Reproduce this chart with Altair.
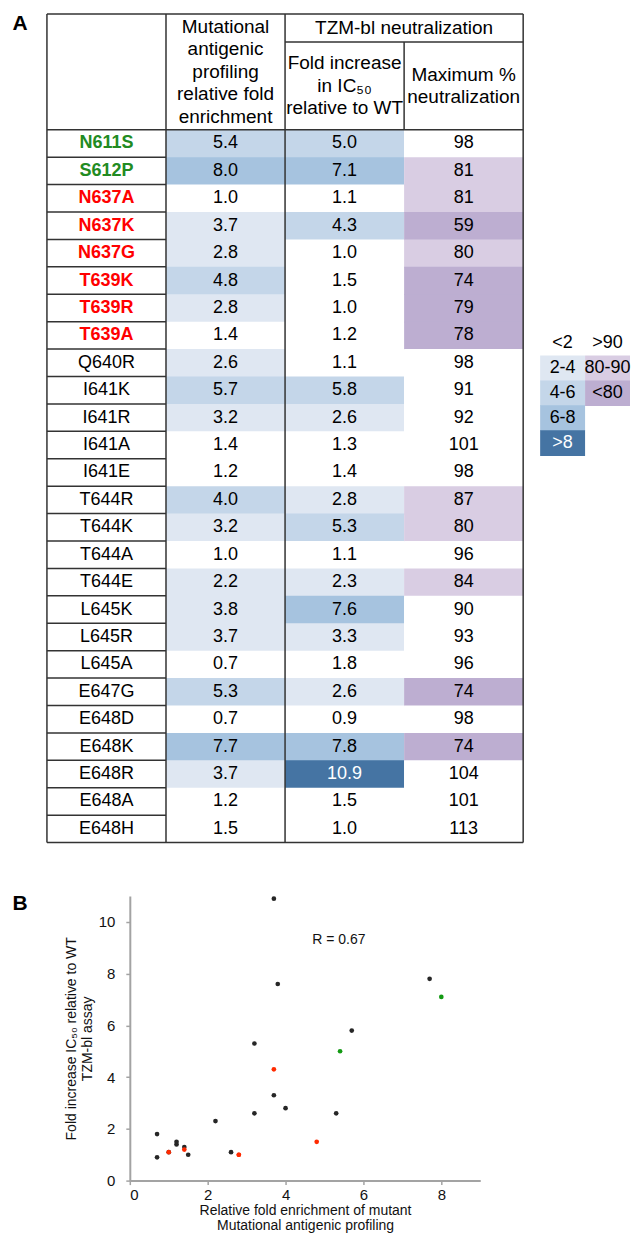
import altair as alt
import pandas as pd

# ---------------- data ----------------
mutants = ["N611S", "S612P", "N637A", "N637K", "N637G", "T639K", "T639R", "T639A",
           "Q640R", "I641K", "I641R", "I641A", "I641E", "T644R", "T644K", "T644A",
           "T644E", "L645K", "L645R", "L645A", "E647G", "E648D", "E648K", "E648R",
           "E648A", "E648H"]
mutant_group = ["green", "green", "red", "red", "red", "red", "red", "red",
                "black", "black", "black", "black", "black", "black", "black", "black",
                "black", "black", "black", "black", "black", "black", "black", "black",
                "black", "black"]
enrichment = [5.4, 8.0, 1.0, 3.7, 2.8, 4.8, 2.8, 1.4, 2.6, 5.7, 3.2, 1.4, 1.2,
              4.0, 3.2, 1.0, 2.2, 3.8, 3.7, 0.7, 5.3, 0.7, 7.7, 3.7, 1.2, 1.5]
fold_ic50 = [5.0, 7.1, 1.1, 4.3, 1.0, 1.5, 1.0, 1.2, 1.1, 5.8, 2.6, 1.3, 1.4,
             2.8, 5.3, 1.1, 2.3, 7.6, 3.3, 1.8, 2.6, 0.9, 7.8, 10.9, 1.5, 1.0]
max_neut = [98, 81, 81, 59, 80, 74, 79, 78, 98, 91, 92, 101, 98,
            87, 80, 96, 84, 90, 93, 96, 74, 98, 74, 104, 101, 113]

blue_labels = ["<2", "2-4", "4-6", "6-8", ">8"]
blue_thresholds = [2, 4, 6, 8.05]
purple_labels = [">90", "80-90", "<80"]
purple_thresholds = [80, 90]
r_label = "R = 0.67"

# ---------------- style / layout ----------------
FONT = "Liberation Sans"
blue_colors = ["#ffffff", "#dfe7f2", "#c4d6e9", "#a6c3df", "#4574a3"]
purple_colors = ["#ffffff", "#d9cde3", "#bdaed1"]   # >90, 80-90, <80
group_colors = ["#228b22", "#ff0000", "#000000"]
point_colors = ["#139a13", "#ff2a00", "#262626"]
LINE = "#333333"
AXIS_GREY = "#a3a3a3"

NROW = len(mutants)
ROW_PX = 27.46
HEAD_PX = 116
SUB_PX = 28
HEAD = HEAD_PX / ROW_PX
SUB = SUB_PX / ROW_PX
TABLE_W = 477
TABLE_H = HEAD_PX + NROW * ROW_PX
HDR_LH = 22.5

xs = alt.Scale(domain=[0, 4], nice=False, zero=False)
ys = alt.Scale(domain=[-HEAD, NROW], nice=False, zero=False, reverse=True)

rows = list(range(NROW))
body = pd.DataFrame({"row": rows, "mutant": mutants, "group": mutant_group,
                     "neut": max_neut})
blue_long = pd.DataFrame({"row": rows + rows,
                          "col": [1] * NROW + [2] * NROW,
                          "value": enrichment + fold_ic50})


def cell(ch):
    return ch.transform_calculate(
        x0="datum.col", x1="datum.col + 1",
        y0="datum.row", y1="datum.row + 1.03",
        xc="datum.col + 0.5", yc="datum.row + 0.5")


X0 = alt.X("x0:Q", scale=xs, axis=None)
Y0 = alt.Y("y0:Q", scale=ys, axis=None)
XC = alt.X("xc:Q", scale=xs, axis=None)
YC = alt.Y("yc:Q", scale=ys, axis=None)

blue_rect = cell(alt.Chart(blue_long)).mark_rect(strokeWidth=0).encode(
    x=X0, x2="x1:Q", y=Y0, y2="y1:Q",
    color=alt.Color("value:Q", legend=None,
                    scale=alt.Scale(type="threshold", domain=blue_thresholds,
                                    range=blue_colors)))

purple_rect = cell(alt.Chart(body).transform_calculate(col="3")).mark_rect(strokeWidth=0).encode(
    x=X0, x2="x1:Q", y=Y0, y2="y1:Q",
    color=alt.Color("neut:Q", legend=None,
                    scale=alt.Scale(type="threshold", domain=purple_thresholds,
                                    range=[purple_colors[2], purple_colors[1], purple_colors[0]])))

blue_text = cell(alt.Chart(blue_long)).mark_text(fontSize=18, baseline="middle").encode(
    x=XC, y=YC, text=alt.Text("value:Q", format=".1f"),
    color=alt.condition("datum.value > 8.05", alt.value("white"), alt.value("black")))

neut_text = cell(alt.Chart(body).transform_calculate(col="3")).mark_text(
    fontSize=18, baseline="middle", color="black").encode(
    x=XC, y=YC, text=alt.Text("neut:Q", format="d"))

mut_color = alt.Color("group:N", legend=None,
                      scale=alt.Scale(domain=["green", "red", "black"], range=group_colors))
mut_bold = cell(alt.Chart(body).transform_calculate(col="0")).transform_filter(
    "datum.group != 'black'").mark_text(fontSize=18, fontWeight="bold", baseline="middle").encode(
    x=XC, y=YC, text="mutant:N", color=mut_color)
mut_plain = cell(alt.Chart(body).transform_calculate(col="0")).transform_filter(
    "datum.group == 'black'").mark_text(fontSize=18, baseline="middle").encode(
    x=XC, y=YC, text="mutant:N", color=mut_color)

# table lines (layout)
line_rows = []
for r in range(1, NROW):
    line_rows.append({"x": 0, "x2": 1, "y": r, "y2": r})
for yy in [-HEAD, 0, NROW]:
    line_rows.append({"x": 0, "x2": 4, "y": yy, "y2": yy})
line_rows.append({"x": 2, "x2": 4, "y": -HEAD + SUB, "y2": -HEAD + SUB})
for xx in [0, 1, 2, 4]:
    line_rows.append({"x": xx, "x2": xx, "y": -HEAD, "y2": NROW})
line_rows.append({"x": 3, "x2": 3, "y": -HEAD + SUB, "y2": 0})
rules = alt.Chart(pd.DataFrame(line_rows)).mark_rule(color=LINE, strokeWidth=1.5).encode(
    x=alt.X("x:Q", scale=xs, axis=None), x2="x2:Q",
    y=alt.Y("y:Q", scale=ys, axis=None), y2="y2:Q")


def header(lines, xc, yc):
    n = len(lines)
    first = yc - (n - 1) / 2 * HDR_LH / ROW_PX
    return alt.Chart(pd.DataFrame({"xc": [xc], "yc": [first]})).mark_text(
        text=lines, fontSize=19, lineHeight=HDR_LH, baseline="middle", color="black").encode(
        x=XC, y=YC)


headers = [
    header(["Mutational", "antigenic", "profiling", "relative fold", "enrichment"], 1.5, -HEAD / 2),
    header(["TZM-bl neutralization"], 3.0, -HEAD + SUB / 2),
    header(["Fold increase", "in IC\u2085\u2080", "relative to WT"], 2.5, (-HEAD + SUB) / 2),
    header(["Maximum %", "neutralization"], 3.5, (-HEAD + SUB) / 2),
]

# panel letter A (placed in table units, left of the table)
panel_a = alt.Chart(pd.DataFrame({"xc": [-34.5 / (TABLE_W / 4)], "yc": [-HEAD + 16 / ROW_PX]})).mark_text(
    text="A", fontSize=21, fontWeight="bold", align="left", baseline="alphabetic",
    color="black").encode(x=XC, y=YC)

table = alt.layer(blue_rect, purple_rect, rules, blue_text, neut_text, mut_bold, mut_plain,
                  *headers, panel_a).resolve_scale(color="independent").properties(
    width=TABLE_W, height=TABLE_H)

# legend
LEG_ROW = 25
leg_top_rows = (329 - 12) / LEG_ROW
leg_ys = alt.Scale(domain=[-leg_top_rows, -leg_top_rows + TABLE_H / LEG_ROW],
                   nice=False, zero=False, reverse=True)
leg_xs = alt.Scale(domain=[0, 2], nice=False, zero=False)
leg_df = pd.DataFrame({
    "col": [0] * len(blue_labels) + [1] * len(purple_labels),
    "row": list(range(len(blue_labels))) + list(range(len(purple_labels))),
    "label": blue_labels + purple_labels})
leg_base = alt.Chart(leg_df).transform_calculate(
    x0="datum.col", x1="datum.col + 1", y0="datum.row", y1="datum.row + 1.03",
    xc="datum.col + 0.5", yc="datum.row + 0.5")
leg_rect = leg_base.mark_rect(strokeWidth=0).encode(
    x=alt.X("x0:Q", scale=leg_xs, axis=None), x2="x1:Q",
    y=alt.Y("y0:Q", scale=leg_ys, axis=None), y2="y1:Q",
    color=alt.Color("label:N", legend=None,
                    scale=alt.Scale(domain=blue_labels + purple_labels,
                                    range=blue_colors + purple_colors)))
leg_text = leg_base.mark_text(fontSize=18, baseline="middle").encode(
    x=alt.X("xc:Q", scale=leg_xs, axis=None), y=alt.Y("yc:Q", scale=leg_ys, axis=None),
    text="label:N",
    color=alt.condition("datum.label == '>8'", alt.value("white"), alt.value("black")))
legend = alt.layer(leg_rect, leg_text).resolve_scale(color="independent").properties(
    width=90, height=TABLE_H)

# scatter
scat_df = pd.DataFrame({"mutant": mutants, "group": mutant_group,
                        "enrich": enrichment, "fold": fold_ic50,
                        "z": [2 if g != "black" else 1 for g in mutant_group]})
axis_common = dict(grid=False, domainColor=AXIS_GREY, domainWidth=2, tickColor=AXIS_GREY,
                   tickWidth=1.5, tickSize=4, labelFontSize=15, labelColor="#111",
                   labelFont=FONT, titleFont=FONT, titleFontSize=14, titleFontWeight="normal",
                   titleColor="#111")
points = alt.Chart(scat_df).mark_circle(size=22, opacity=1).encode(
    x=alt.X("enrich:Q", scale=alt.Scale(domain=[0, 9], nice=False),
            axis=alt.Axis(values=[0, 2, 4, 6, 8], labelPadding=3, titlePadding=1,
                          titleLineHeight=15,
                          title=["Relative fold enrichment of mutant",
                                 "Mutational antigenic profiling"], **axis_common)),
    y=alt.Y("fold:Q", scale=alt.Scale(domain=[0, 11], nice=False),
            axis=alt.Axis(values=[0, 2, 4, 6, 8, 10], labelPadding=11, titlePadding=4,
                          titleLineHeight=16,
                          title=["Fold increase IC\u2085\u2080 relative to WT", "TZM-bl assay"],
                          **axis_common)),
    color=alt.Color("group:N", legend=None,
                    scale=alt.Scale(domain=["green", "red", "black"], range=point_colors)),
    order=alt.Order("z:Q"))
r_text = alt.Chart(pd.DataFrame({"x": [5.37], "y": [9.32], "t": [r_label]})).mark_text(
    fontSize=14, baseline="middle", color="#111").encode(x="x:Q", y="y:Q", text="t:N")
scatter = alt.layer(points, r_text).properties(width=351, height=285)

# spacer carrying the panel letter B (1 unit = 1 px)
sp_x = alt.Scale(domain=[0, 1], nice=False, zero=False)
sp_y = alt.Scale(domain=[0, 1], nice=False, zero=False, reverse=True)
spacer = alt.Chart(pd.DataFrame({"x": [-34.5], "y": [14]})).mark_text(
    text="B", fontSize=21, fontWeight="bold", align="left", baseline="alphabetic",
    color="black").encode(
    x=alt.X("x:Q", scale=sp_x, axis=None), y=alt.Y("y:Q", scale=sp_y, axis=None)).properties(
    width=1, height=1)

chart = alt.vconcat(
    alt.hconcat(table, legend, spacing=14),
    alt.hconcat(spacer, scatter, spacing=14),
    spacing=47.5,
).properties(
    padding={"left": 4, "top": 3, "right": 0, "bottom": 0}
).configure(font=FONT).configure_view(stroke="transparent")

chart.save("out.html", embed_options={"renderer": "svg", "actions": False})
